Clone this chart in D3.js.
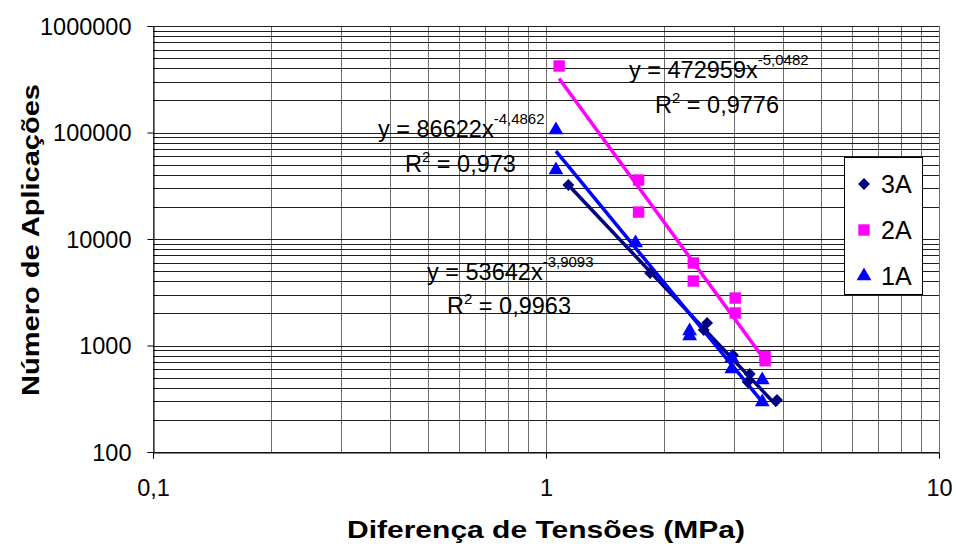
<!DOCTYPE html>
<html>
<head>
<meta charset="utf-8">
<script src="https://cdn.jsdelivr.net/npm/d3@7/dist/d3.min.js"></script>
<style>
  body { margin: 0; background: #fff; }
  svg text { font-family: "Liberation Sans", Arial, sans-serif; fill: #000; }
</style>
</head>
<body>
<svg id="chart" width="956" height="546"></svg>
<script>
(function() {

  'use strict';

  // data
  var seriesNames = ['3A', '2A', '1A'];

  var x3A = [1.14, 1.84, 2.57, 2.52, 2.99, 3.30, 3.26, 3.87];
  var y3A = [32100, 4800, 1630, 1400, 814, 540, 454, 308];

  var x2A = [1.08, 1.72, 1.72, 2.37, 2.37, 3.03, 3.03, 3.61, 3.61];
  var y2A = [421000, 35800, 17900, 5950, 4030, 2790, 2020, 790, 720];

  var x1A = [1.06, 1.06, 1.69, 2.32, 2.32, 2.97, 2.97, 3.55, 3.55];
  var y1A = [105500, 44400, 9170, 1370, 1230, 763, 602, 474, 295];

  // trendline end points (power fits, straight on log-log)
  var trendX3A = [1.14, 3.87];
  var trendY3A = [32100, 270];
  var trendX2A = [1.08, 3.61];
  var trendY2A = [321000, 725];
  var trendX1A = [1.06, 3.55];
  var trendY1A = [66700, 295];

  var xTicks = [0.1, 1, 10];
  var xTickLabels = ['0,1', '1', '10'];
  var yTicks = [100, 1000, 10000, 100000, 1000000];
  var yTickLabels = ['100', '1000', '10000', '100000', '1000000'];

  var eqText = [
    { main: 'y = 472959x', sup: '-5,0482', r2: '0,9776' },
    { main: 'y = 86622x', sup: '-4,4862', r2: '0,973' },
    { main: 'y = 53642x', sup: '-3,9093', r2: '0,9963' }
  ];

  var colours = { '3A': '#000080', '2A': '#ff00ff', '1A': '#0000ff' };

  var svg = d3.select('#chart');
  var left = 153, right = 939, top = 26, bottom = 452;

  var x = d3.scaleLog().domain([0.1, 10]).range([left, right]);
  var y = d3.scaleLog().domain([100, 1000000]).range([bottom, top]);

  // minor values for gridlines
  var minorX = [], minorY = [];
  [0.1, 1].forEach(function(d) {
    for (var k = 2; k <= 9; k++) minorX.push(d * k);
  });
  [100, 1000, 10000, 100000].forEach(function(d) {
    for (var k = 2; k <= 9; k++) minorY.push(d * k);
  });

  svg.append('rect').attr('x', left).attr('y', top)
    .attr('width', right - left).attr('height', bottom - top).attr('fill', '#fff');

  var grid = svg.append('g').attr('shape-rendering', 'crispEdges');
  grid.selectAll('.vx').data(minorX.concat(xTicks)).enter().append('line')
    .attr('x1', function(d) { return Math.round(x(d)) + 0.5; })
    .attr('x2', function(d) { return Math.round(x(d)) + 0.5; })
    .attr('y1', top).attr('y2', bottom)
    .attr('stroke', '#6e6e6e').attr('stroke-width', 1);
  grid.selectAll('.hy').data(minorY.concat(yTicks)).enter().append('line')
    .attr('y1', function(d) { return Math.round(y(d)) + 0.5; })
    .attr('y2', function(d) { return Math.round(y(d)) + 0.5; })
    .attr('x1', left).attr('x2', right)
    .attr('stroke', '#1e1e1e').attr('stroke-width', 1);

  // axes
  var yAxis = d3.axisLeft(y).tickValues(yTicks)
    .tickFormat(function(d, i) { return yTickLabels[i]; })
    .tickSize(6).tickPadding(16);
  var gy = svg.append('g').attr('transform', 'translate(' + (left + 0.5) + ',0)').call(yAxis);

  var xAxis = d3.axisBottom(x).tickValues(xTicks)
    .tickFormat(function(d, i) { return xTickLabels[i]; })
    .tickSize(6).tickPadding(21);
  var gx = svg.append('g').attr('transform', 'translate(0,' + (bottom + 0.5) + ')').call(xAxis);

  [gx, gy].forEach(function(g) {
    g.select('.domain').attr('stroke', '#000');
    g.selectAll('.tick line').attr('stroke', '#000');
    g.selectAll('.tick text').attr('font-size', 23.5).attr('fill', '#000')
      .attr('font-family', '"Liberation Sans", Arial, sans-serif');
  });
  gy.selectAll('.tick text').attr('dy', '0.36em');

  // minor ticks on y axis (inside)
  svg.append('g').selectAll('line').data(minorY).enter().append('line')
    .attr('x1', left).attr('x2', left + 4)
    .attr('y1', function(d) { return Math.round(y(d)) + 0.5; })
    .attr('y2', function(d) { return Math.round(y(d)) + 0.5; })
    .attr('stroke', '#000');

  // trendlines
  var line = d3.line()
    .x(function(d) { return x(d[0]); })
    .y(function(d) { return y(d[1]); });
  var trends = [
    ['3A', d3.zip(trendX3A, trendY3A)],
    ['2A', d3.zip(trendX2A, trendY2A)],
    ['1A', d3.zip(trendX1A, trendY1A)]
  ];
  svg.append('g').selectAll('path').data(trends).enter().append('path')
    .attr('d', function(d) { return line(d[1]); })
    .attr('fill', 'none')
    .attr('stroke', function(d) { return colours[d[0]]; })
    .attr('stroke-width', 3.5);

  // markers
  var symbols = {
    '3A': d3.symbol().type(d3.symbolDiamond2).size(90),
    '2A': d3.symbol().type(d3.symbolSquare).size(130),
    '1A': d3.symbol().type(d3.symbolTriangle).size(95)
  };
  var points = [
    ['3A', d3.zip(x3A, y3A)],
    ['2A', d3.zip(x2A, y2A)],
    ['1A', d3.zip(x1A, y1A)]
  ];
  points.forEach(function(s) {
    svg.append('g').selectAll('path').data(s[1]).enter().append('path')
      .attr('d', symbols[s[0]]())
      .attr('transform', function(d) {
        return 'translate(' + x(d[0]) + ',' + y(d[1]) + ')';
      })
      .attr('fill', colours[s[0]]);
  });

  // equation labels
  var eqPos = [
    { x: 629, y: 78, rx: 655, ry: 113 },
    { x: 378, y: 137, rx: 405, ry: 172 },
    { x: 427, y: 280, rx: 447, ry: 314 }
  ];
  eqText.forEach(function(e, i) {
    var p = eqPos[i];
    var t = svg.append('text').attr('x', p.x).attr('y', p.y).attr('font-size', 23.5);
    t.append('tspan').text(e.main);
    t.append('tspan').attr('dy', -13).attr('font-size', 15).text(e.sup);
    var r = svg.append('text').attr('x', p.rx).attr('y', p.ry).attr('font-size', 23.5);
    r.append('tspan').text('R');
    r.append('tspan').attr('dy', -10).attr('font-size', 15).text('2');
    r.append('tspan').attr('dy', 10).text(' = ' + e.r2);
  });

  // legend
  var lg = svg.append('g');
  lg.append('rect').attr('x', 844.5).attr('y', 157.5).attr('width', 78).attr('height', 137)
    .attr('fill', '#fff').attr('stroke', '#000').attr('stroke-width', 1);
  var legendY = [184, 230, 276];
  seriesNames.forEach(function(n, i) {
    lg.append('path').attr('d', symbols[n]())
      .attr('transform', 'translate(864,' + legendY[i] + ')')
      .attr('fill', colours[n]);
    lg.append('text').attr('x', 881).attr('y', legendY[i]).attr('dy', '0.36em')
      .attr('font-size', 25).text(n);
  });

  // axis titles
  svg.append('text').attr('x', 546).attr('y', 538).attr('text-anchor', 'middle')
    .attr('font-size', 24).attr('font-weight', 'bold')
    .attr('textLength', 398).attr('lengthAdjust', 'spacingAndGlyphs')
    .text('Diferença de Tensões (MPa)');
  svg.append('text').attr('transform', 'translate(39,240) rotate(-90)')
    .attr('text-anchor', 'middle').attr('font-size', 24).attr('font-weight', 'bold')
    .attr('textLength', 312).attr('lengthAdjust', 'spacingAndGlyphs')
    .text('Número de Aplicações');

})();
</script>
</body>
</html>
